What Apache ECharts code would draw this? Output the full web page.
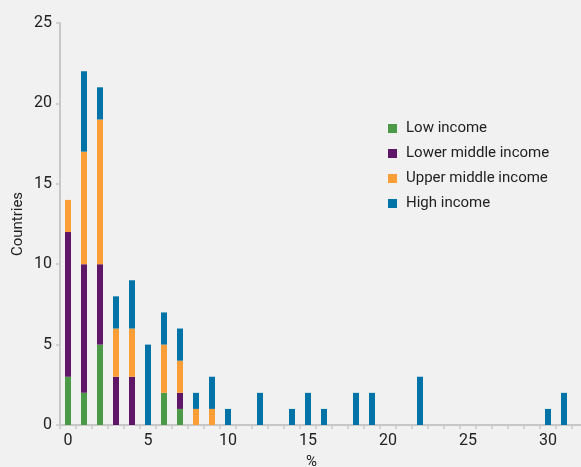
<!DOCTYPE html>
<html>
<head>
<meta charset="utf-8">
<script src="https://cdn.jsdelivr.net/npm/echarts@6/dist/echarts.min.js"></script>
<style>
  html, body { margin: 0; padding: 0; background: #f1f1f1; }
  #chart { width: 581px; height: 467px; }
</style>
</head>
<body>
<div id="chart"></div>
<script>
// share of countries by bucket (%), stacked by income group
const categories = ['0', '1', '2', '3', '4', '5', '6', '7', '8', '9', '10', '11', '12', '13', '14', '15', '16',
  '17', '18', '19', '20', '21', '22', '23', '24', '25', '26', '27', '28', '29', '30', '31', '32']

const lowIncome = [3, 2, 5, 0, 0, 0, 2, 1, 0, 0, 0, 0, 0, 0, 0, 0, 0, 0, 0, 0, 0, 0, 0, 0, 0, 0, 0, 0, 0, 0, 0, 0, 0]
const lowerMiddle = [9, 8, 5, 3, 3, 0, 0, 1, 0, 0, 0, 0, 0, 0, 0, 0, 0, 0, 0, 0, 0, 0, 0, 0, 0, 0, 0, 0, 0, 0, 0, 0, 0]
const upperMiddle = [2, 7, 9, 3, 3, 0, 3, 2, 1, 1, 0, 0, 0, 0, 0, 0, 0, 0, 0, 0, 0, 0, 0, 0, 0, 0, 0, 0, 0, 0, 0, 0, 0]
const highIncome = [0, 5, 2, 2, 3, 5, 2, 2, 1, 2, 1, 0, 2, 0, 1, 2, 1, 0, 2, 2, 0, 0, 3, 0, 0, 0, 0, 0, 0, 0, 1, 2, 0]

const yTicks = { min: 0, max: 25, interval: 5 }

const font = 'Roboto'
const axisGray = '#c8c8c8'

const makeSeries = (name, data, color) => ({
  name,
  type: 'bar',
  stack: 'total',
  data,
  barWidth: 6,
  itemStyle: { color },
  emphasis: { disabled: true }
})

const chart = echarts.init(document.getElementById('chart'))

chart.setOption({
  backgroundColor: '#f1f1f1',
  animation: false,
  textStyle: { fontFamily: font },
  grid: {
    left: 60,
    right: -7,
    top: 23,
    bottom: 42,
    outerBoundsMode: 'none',
    containLabel: false
  },
  legend: {
    orient: 'vertical',
    left: 383,
    top: 116,
    itemWidth: 9,
    itemHeight: 9,
    itemGap: 10,
    icon: 'rect',
    textStyle: { fontFamily: font, fontSize: 15, color: '#222', padding: [0, 0, 0, 4] },
    data: ['Low income', 'Lower middle income', 'Upper middle income', 'High income']
  },
  xAxis: {
    type: 'category',
    data: categories,
    name: '%',
    nameLocation: 'middle',
    nameGap: 30,
    nameMoveOverlap: false,
    nameTextStyle: { fontFamily: font, fontSize: 15, color: '#222', padding: [0, 25, 0, 0] },
    axisLine: { lineStyle: { color: axisGray, width: 2 } },
    axisTick: { show: true, interval: 0, length: 4, lineStyle: { color: axisGray, width: 1.5 } },
    axisLabel: { interval: 4, margin: 8, fontFamily: font, fontSize: 16, color: '#222' },
    splitLine: { show: false }
  },
  yAxis: {
    type: 'value',
    min: yTicks.min,
    max: yTicks.max,
    interval: yTicks.interval,
    name: 'Countries',
    nameLocation: 'middle',
    nameGap: 34,
    nameMoveOverlap: false,
    nameTextStyle: { fontFamily: font, fontSize: 15, color: '#222' },
    axisLine: { show: true, lineStyle: { color: axisGray, width: 2 } },
    axisTick: { show: true, length: 4, lineStyle: { color: axisGray, width: 1.5 } },
    axisLabel: { margin: 8, fontFamily: font, fontSize: 16, color: '#222' },
    splitLine: { show: false }
  },
  series: [
    makeSeries('Low income', lowIncome, '#4a9a47'),
    makeSeries('Lower middle income', lowerMiddle, '#5f1568'),
    makeSeries('Upper middle income', upperMiddle, '#fb9e37'),
    makeSeries('High income', highIncome, '#0273a7')
  ]
})

window.addEventListener('resize', () => chart.resize())
</script>
</body>
</html>
